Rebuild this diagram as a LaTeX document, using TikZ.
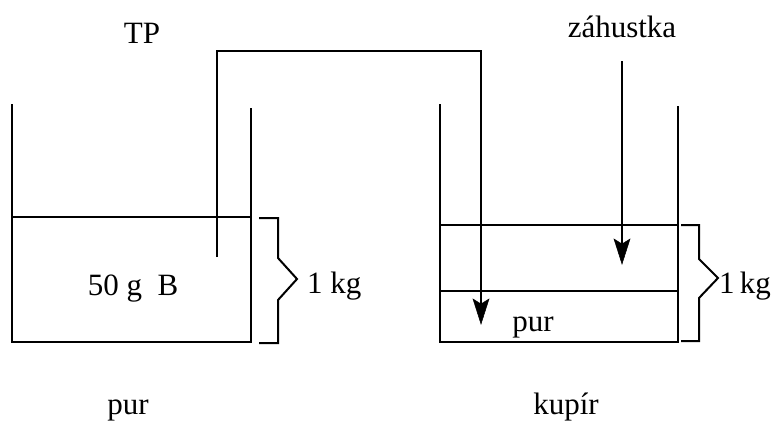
\documentclass[tikz,border=0pt]{standalone}
\usepackage{fontspec}
\setmainfont{Liberation Serif}
\begin{document}
\begin{tikzpicture}[x=1pt,y=-1pt,
  line/.style={line width=2pt,line join=miter},
  head/.style={fill=black, draw=black, line width=0.5pt, line join=miter},
  lbl/.style={font=\fontsize{31}{34}\selectfont, inner sep=0pt, anchor=base}]
\useasboundingbox (0,0) rectangle (778,421);
% left beaker
\draw[line] (12,104) -- (12,342) -- (251,342) -- (251,108);
\draw[line] (12,217) -- (251,217);
% right beaker
\draw[line] (440,104) -- (440,342) -- (678,342) -- (678,106);
\draw[line] (440,225) -- (678,225);
\draw[line] (440,291) -- (678,291);
% pipe
\coordinate (pipeStart) at (217,257);
\coordinate (pipeEnd) at (481,324);
\coordinate (pipeBack) at (481,304);
\draw[line] (pipeStart) -- (217,51) -- (481,51) -- (pipeBack);
\filldraw[head] (481,324) -- (473,299) -- (481,304) -- (489,299) -- cycle;
% zahustka arrow
\coordinate (zStart) at (622,61);
\coordinate (zEnd) at (622,264);
\coordinate (zBack) at (622,244);
\draw[line] (zStart) -- (zBack);
\filldraw[head] (622,264) -- (614,239) -- (622,244) -- (630,239) -- cycle;
% braces
\draw[line] (259,218) -- (278,218) -- (278,258) -- (297,279) -- (278,300) -- (278,343) -- (259,343);
\draw[line] (681,225) -- (699,225) -- (699,259) -- (718,278) -- (699,298) -- (699,341) -- (681,341);
% labels
\node[lbl] (tp) at (142,43) {TP};
\node[lbl] (zah) at (622,37) {záhustka};
\node[lbl] (b) at (133,295) {50 g\ \ B};
\node[lbl,anchor=base west] (kg1) at (307,293) {1 kg};
\node[lbl,anchor=base west] (kg2) at (719,293) {1\,kg};
\node[lbl] (pur1) at (533,331) {pur};
\node[lbl] (pur2) at (128,414) {pur};
\node[lbl] (kup) at (566,414) {kupír};
\end{tikzpicture}
\end{document}
